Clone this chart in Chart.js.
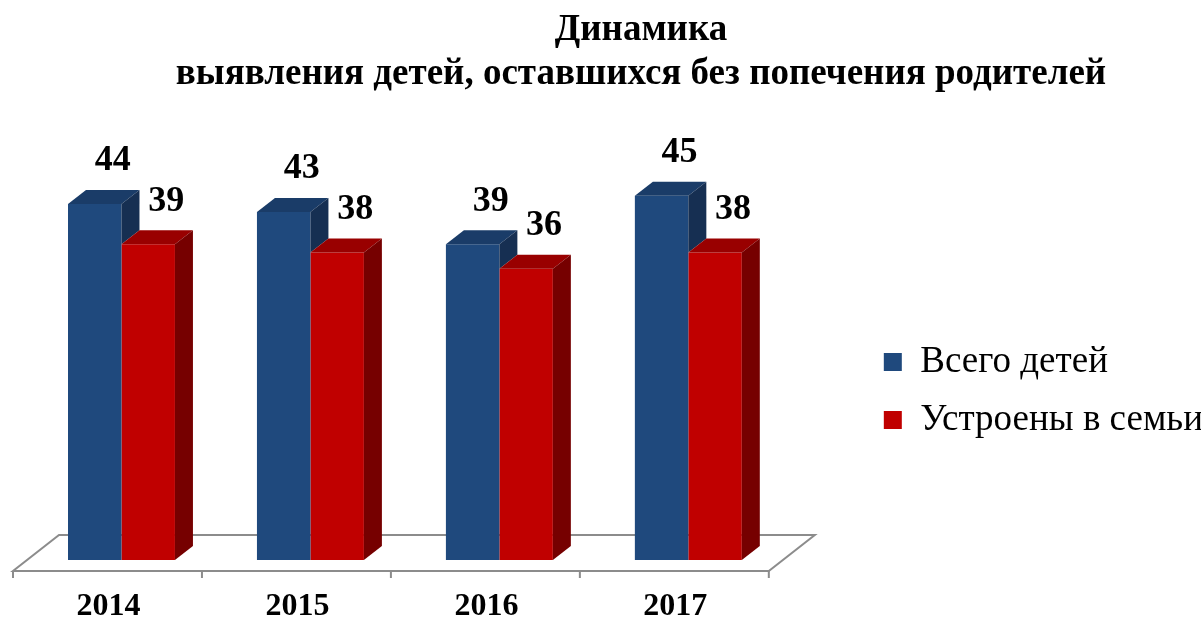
<!DOCTYPE html>
<html lang="ru">
<head>
<meta charset="utf-8">
<title>Динамика выявления детей</title>
<script src="https://cdn.jsdelivr.net/npm/chart.js@4.4.1/dist/chart.umd.min.js"></script>
<style>
    html, body { margin: 0; padding: 0; background: #fff; }
    canvas { display: block; }
</style>
</head>
<body>
<canvas id="grafico" width="1201" height="618"></canvas>
<script>
const anios = ['2014', '2015', '2016', '2017'];
const vsegoDetey = [44, 43, 39, 45];
const ustroenyVSemi = [39, 38, 36, 38];
const nombresSeries = ['Всего детей', 'Устроены в семьи'];
const tituloLineas = ['Динамика', 'выявления детей, оставшихся без попечения родителей'];

const colores = {
    azul: '#1F497D', azulTecho: '#1A3C68', azulLado: '#162F52',
    rojo: '#C00000', rojoTecho: '#990000', rojoLado: '#760000',
    piso: '#8C8C8C'
};
const prof = { dx: 18, dy: -14 };       // profundidad de cada columna
const pisoProf = { dx: 46, dy: -36 };   // profundidad del piso
const fuente = 'Liberation Serif, Times New Roman, serif';

function poligono(ctx, puntos, color) {
    ctx.beginPath();
    ctx.moveTo(puntos[0][0], puntos[0][1]);
    puntos.slice(1).forEach(p => ctx.lineTo(p[0], p[1]));
    ctx.closePath();
    ctx.fillStyle = color;
    ctx.fill();
}

// piso 3D y marcas del eje
const pluginPiso = {
    id: 'piso',
    beforeDatasetsDraw(chart) {
        const ctx = chart.ctx;
        const x = chart.scales.x, y = chart.scales.y;
        const y0 = y.getPixelForValue(0);
        const ancho = (x.right - x.left) / anios.length;
        const frenteY = y0 + 11;
        const izq = x.left - 14, der = x.right - 14;
        ctx.save();
        ctx.beginPath();
        ctx.moveTo(izq, frenteY);
        ctx.lineTo(der, frenteY);
        ctx.lineTo(der + pisoProf.dx, frenteY + pisoProf.dy);
        ctx.lineTo(izq + pisoProf.dx, frenteY + pisoProf.dy);
        ctx.closePath();
        ctx.fillStyle = '#fff';
        ctx.fill();
        ctx.strokeStyle = colores.piso;
        ctx.lineWidth = 2;
        ctx.stroke();
        ctx.beginPath();
        for (let i = 0; i <= anios.length; i++) {
            const tx = izq + i * ancho;
            ctx.moveTo(tx, frenteY);
            ctx.lineTo(tx, frenteY + 7);
        }
        ctx.stroke();
        ctx.restore();
    }
};

// techo y lado de las columnas, y etiquetas de valores
const pluginColumnas = {
    id: 'columnas3d',
    afterDatasetsDraw(chart) {
        const ctx = chart.ctx;
        const azules = chart.getDatasetMeta(0).data;
        const rojas = chart.getDatasetMeta(1).data;
        ctx.save();
        azules.forEach((b, i) => {
            const r = rojas[i];
            const bIzq = b.x - b.width / 2, bDer = b.x + b.width / 2;
            const rIzq = r.x - r.width / 2, rDer = r.x + r.width / 2;

            poligono(ctx, [[bIzq, b.y], [bDer, b.y], [bDer + prof.dx, b.y + prof.dy], [bIzq + prof.dx, b.y + prof.dy]], colores.azulTecho);
            poligono(ctx, [[bDer, b.y], [bDer + prof.dx, b.y + prof.dy], [bDer + prof.dx, r.y + prof.dy], [bDer, r.y]], colores.azulLado);

            poligono(ctx, [[rIzq, r.y], [rDer, r.y], [rDer + prof.dx, r.y + prof.dy], [rIzq + prof.dx, r.y + prof.dy]], colores.rojoTecho);
            poligono(ctx, [[rDer, r.y], [rDer + prof.dx, r.y + prof.dy], [rDer + prof.dx, r.base + prof.dy], [rDer, r.base]], colores.rojoLado);
        });

        ctx.fillStyle = '#000';
        ctx.font = 'bold 36px ' + fuente;
        ctx.textAlign = 'center';
        ctx.textBaseline = 'middle';
        [azules, rojas].forEach((barras, d) => {
            const valores = chart.data.datasets[d].data;
            barras.forEach((b, i) => {
                ctx.fillText(String(valores[i]), b.x + 18, b.y - 43);
            });
        });
        ctx.restore();
    },
    afterLayout(chart) {
        // el título del original está centrado un poco a la derecha
        chart.titleBlock.left += 54;
        chart.legend.top += 82;
        chart.legend.bottom += 82;
        chart.legend.left += 12;
        chart.legend.right += 12;
    }
};

new Chart(document.getElementById('grafico').getContext('2d'), {
    type: 'bar',
    data: {
        labels: anios,
        datasets: [
            {
                label: nombresSeries[0],
                data: vsegoDetey,
                backgroundColor: colores.azul,
                borderWidth: 0
            },
            {
                label: nombresSeries[1],
                data: ustroenyVSemi,
                backgroundColor: colores.rojo,
                borderWidth: 0
            }
        ]
    },
    options: {
        responsive: false,
        animation: false,
        layout: { padding: { left: 27, right: 0, top: 0, bottom: 0 } },
        datasets: { bar: { categoryPercentage: 0.566, barPercentage: 1 } },
        scales: {
            x: {
                grid: { display: false },
                border: { display: false },
                ticks: {
                    color: '#000',
                    font: { family: fuente, size: 32, weight: 'bold' },
                    padding: 20,
                    labelOffset: -13
                },
                afterFit: s => { s.height = 58; }
            },
            y: {
                position: 'right',
                min: 0,
                max: 50,
                grid: { display: false },
                border: { display: false },
                ticks: { display: false },
                afterFit: s => { s.width = 68; }
            }
        },
        plugins: {
            title: {
                display: true,
                text: tituloLineas,
                color: '#000',
                font: { family: fuente, size: 37, weight: 'bold', lineHeight: 1.18 },
                padding: { top: 9, bottom: 59 }
            },
            legend: {
                position: 'right',
                maxWidth: 420,
                labels: {
                    color: '#000',
                    font: { family: fuente, size: 37 },
                    boxWidth: 18,
                    boxHeight: 18,
                    padding: 21
                }
            },
            tooltip: { enabled: false }
        }
    },
    plugins: [pluginPiso, pluginColumnas]
});
</script>
</body>
</html>
